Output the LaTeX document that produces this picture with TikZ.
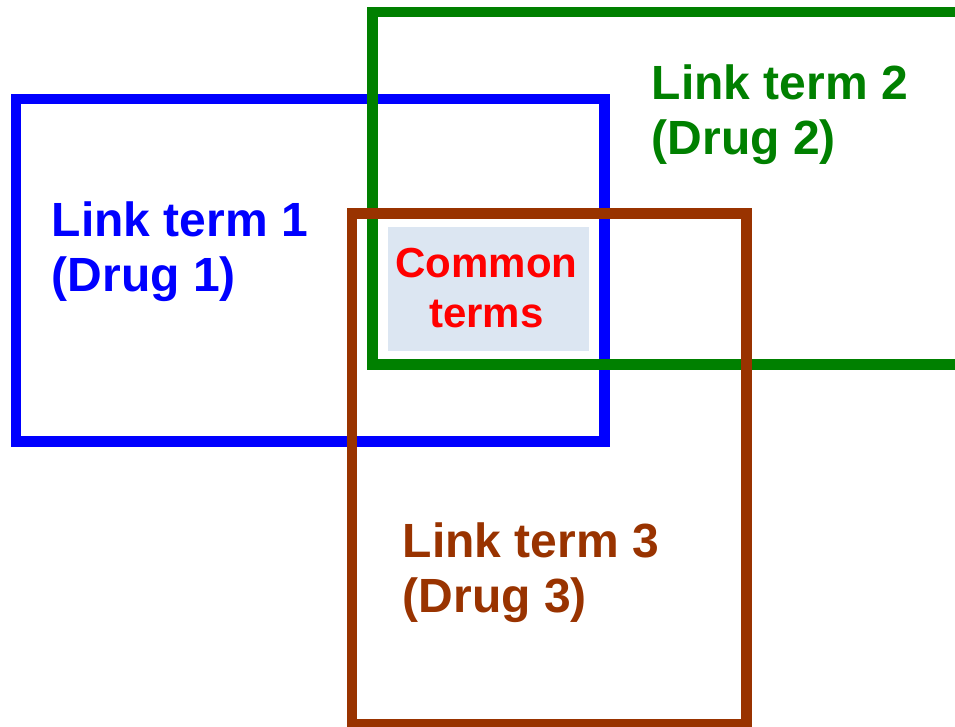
\documentclass[tikz,border=0pt]{standalone}
\usepackage{fontspec}
\setmainfont{Liberation Sans}
\definecolor{cblue}{HTML}{0000FF}
\definecolor{cgreen}{HTML}{008000}
\definecolor{cbrown}{HTML}{993300}
\definecolor{cred}{HTML}{FF0000}
\definecolor{cfill}{HTML}{DCE6F2}
\tikzset{
  frame/.style={line width=10.5pt, line join=miter},
  label/.style={font=\fontsize{48}{55}\selectfont\bfseries, align=left, anchor=north west, inner sep=0pt},
  common/.style={font=\fontsize{42}{50}\selectfont\bfseries, align=center, anchor=north, inner sep=0pt, text=cred},
}
\begin{document}
\begin{tikzpicture}[x=1pt,y=-1pt]
\useasboundingbox (0,0) rectangle (955,727);
\clip (0,0) rectangle (955,727);
\fill[white] (0,0) rectangle (955,727);
\fill[cfill] (388,227) rectangle (589,351);
\draw[frame, cblue] (16,99) rectangle (604.5,441.5);
\draw[frame, cgreen] (372.5,12) rectangle (975,364.5);
\draw[frame, cbrown] (352,213.5) rectangle (746.5,724.5);
\node[label, text=cblue] (l1) at (51.6,201.8) {Link term 1\\(Drug 1)};
\node[label, text=cgreen] (l2) at (651.6,64.8) {Link term 2\\(Drug 2)};
\node[label, text=cbrown] (l3) at (402.6,522.8) {Link term 3\\(Drug 3)};
\node[common] (ct) at (486.5,247.5) {Common\\terms};
\end{tikzpicture}
\end{document}
